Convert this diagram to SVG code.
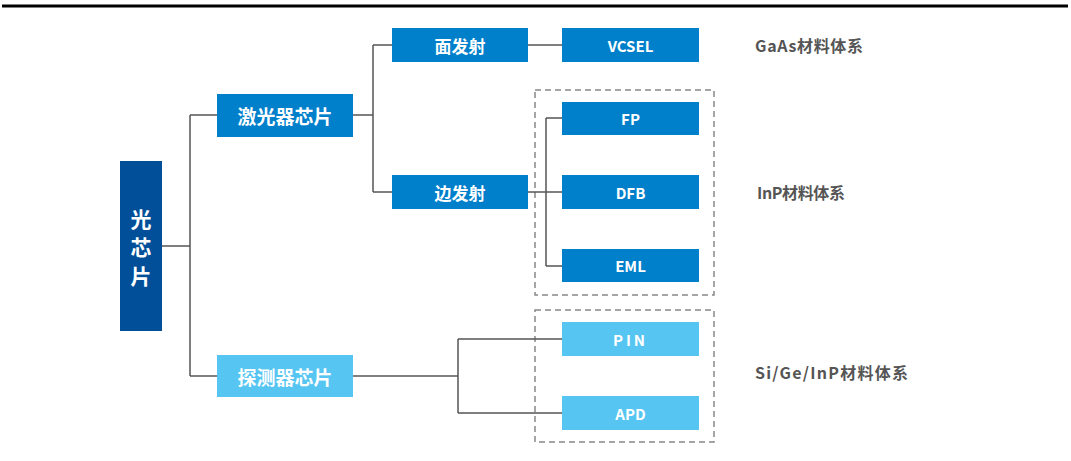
<svg xmlns="http://www.w3.org/2000/svg" width="1071" height="461" viewBox="0 0 1071 461">
<style>
.dk{fill:#0080CB}
.lt{fill:#56C5F2}
.rt{fill:#004F98}
.t{fill:#fff;font-family:"Noto Sans CJK SC",sans-serif;font-weight:bold;text-anchor:middle;dominant-baseline:central}
.lab{fill:#555;font-family:"Noto Sans CJK SC",sans-serif;font-weight:bold;font-size:16px}
.c{fill:none;stroke:#555;stroke-width:1.5}
.d{fill:none;stroke:#888;stroke-width:1.5;stroke-dasharray:6 4}
</style>
<rect width="1071" height="461" fill="#fff"/>
<line x1="2" y1="6" x2="1068" y2="6" stroke="#000" stroke-width="3"/>
<g id="groups">
<rect class="d" x="535" y="90" width="179" height="205"/>
<rect class="d" x="535" y="310" width="179" height="132"/>
</g>
<g id="connectors">
<path class="c" d="M162 246H190M190 115V376M190 115H217M190 376H217"/>
<path class="c" d="M353 115H373M373 45V192M373 45H392M373 192H392"/>
<path class="c" d="M528 45H562"/>
<path class="c" d="M528 192H562M546 118V266M546 118H562M546 266H562"/>
<path class="c" d="M353 376H458M458 339V413M458 339H562M458 413H562"/>
</g>
<g id="root"><rect class="rt" x="120" y="161" width="42" height="170"/>
<text class="t" font-size="21" x="141" y="218">光</text>
<text class="t" font-size="21" x="141" y="246">芯</text>
<text class="t" font-size="21" x="141" y="275">片</text></g>
<g id="laser"><rect class="dk" x="217" y="94" width="136" height="43"/><text class="t" font-size="19" x="285" y="115.5">激光器芯片</text></g>
<g id="detector"><rect class="lt" x="217" y="355" width="136" height="42"/><text class="t" font-size="19" x="285" y="376">探测器芯片</text></g>
<g id="surface"><rect class="dk" x="392" y="28" width="136" height="34"/><text class="t" font-size="17" x="460" y="45">面发射</text></g>
<g id="edge"><rect class="dk" x="392" y="175" width="136" height="34"/><text class="t" font-size="17" x="460" y="192">边发射</text></g>
<g id="vcsel"><rect class="dk" x="562" y="28" width="137" height="34"/><text class="t" font-size="15" x="630.5" y="45">VCSEL</text></g>
<g id="fp"><rect class="dk" x="562" y="102" width="137" height="33"/><text class="t" font-size="15" x="630.5" y="118.5">FP</text></g>
<g id="dfb"><rect class="dk" x="562" y="175" width="137" height="34"/><text class="t" font-size="15" x="630.5" y="192">DFB</text></g>
<g id="eml"><rect class="dk" x="562" y="249" width="137" height="33"/><text class="t" font-size="15" x="630.5" y="265.5">EML</text></g>
<g id="pin"><rect class="lt" x="562" y="322" width="137" height="34"/><text class="t" font-size="15" x="630.5" y="339" letter-spacing="3">PIN</text></g>
<g id="apd"><rect class="lt" x="562" y="396" width="137" height="34"/><text class="t" font-size="15" x="630.5" y="413">APD</text></g>
<g id="labels">
<text class="lab" x="755" y="52" textLength="108" lengthAdjust="spacing">GaAs材料体系</text>
<text class="lab" x="757" y="199" textLength="88" lengthAdjust="spacing">InP材料体系</text>
<text class="lab" x="755" y="379" textLength="153" lengthAdjust="spacing">Si/Ge/InP材料体系</text>
</g>
</svg>
